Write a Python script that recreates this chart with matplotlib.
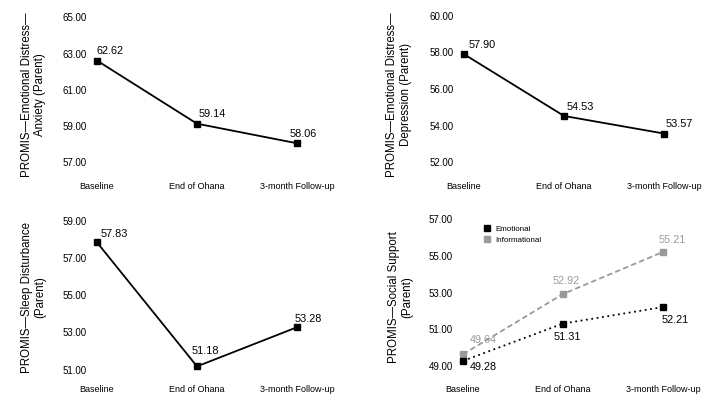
import matplotlib
matplotlib.use('Agg')
import matplotlib.pyplot as plt
from matplotlib.lines import Line2D

plt.rcParams['font.family'] = ['Liberation Sans', 'DejaVu Sans']

# Data
timepoints = ['Baseline', 'End of Ohana', '3-month Follow-up']

anxiety = [62.62, 59.14, 58.06]
depression = [57.90, 54.53, 53.57]
sleep = [57.83, 51.18, 53.28]
support_emotional = [49.28, 51.31, 52.21]
support_informational = [49.64, 52.92, 55.21]

anxiety_ticks = [57, 59, 61, 63, 65]
depression_ticks = [52, 54, 56, 58, 60]
sleep_ticks = [51, 53, 55, 57, 59]
support_ticks = [49, 51, 53, 55, 57]

labels = ['PROMIS\u2014Emotional Distress\u2014\nAnxiety (Parent)',
          'PROMIS\u2014Emotional Distress\u2014\nDepression (Parent)',
          'PROMIS\u2014Sleep Disturbance\n(Parent)',
          'PROMIS\u2014Social Support\n(Parent)']

# figure geometry in pixels
W, H = 721, 408
fig = plt.figure(figsize=(W / 100, H / 100), dpi=100)

def make_axes(left_px, top_px, bottom_px, width_px=236):
    return fig.add_axes([left_px / W, 1 - bottom_px / H,
                         width_px / W, (bottom_px - top_px) / H])

def style(ax, ticks, ylim, ylabel, label_x):
    ax.set_xlim(-0.06, 2.3)
    ax.set_ylim(*ylim)
    ax.set_xticks(range(len(timepoints)))
    ax.set_xticklabels(timepoints, fontsize=6.5)
    ax.set_yticks(ticks)
    ax.set_yticklabels(['%.2f' % t for t in ticks], fontsize=7)
    for s in ax.spines.values():
        s.set_visible(False)
    ax.tick_params(length=0, pad=3)
    ax.tick_params(axis='x', pad=3.5)
    ax.text(label_x, 0.5, ylabel, transform=ax.transAxes, rotation=90,
            ha='center', va='center', multialignment='center',
            fontsize=8.3, linespacing=1.15)

def annotate(ax, values, offsets, color='black'):
    for i, (v, off) in enumerate(zip(values, offsets)):
        ax.annotate('%.2f' % v, (i, v), xytext=off, textcoords='offset pixels',
                    ha='center', va='center', fontsize=7.8, color=color)

x = range(len(timepoints))
line_kw = dict(marker='s', markersize=4.2, linewidth=1.3)

# Anxiety
ax1 = make_axes(91, 12, 177)
ax1.plot(x, anxiety, color='black', **line_kw)
annotate(ax1, anxiety, [(13, 10), (15, 10), (6, 9)])
style(ax1, anxiety_ticks, (56.2, 65.3), labels[0], -0.245)

# Depression
ax2 = make_axes(458, 12, 177)
ax2.plot(x, depression, color='black', **line_kw)
annotate(ax2, depression, [(18, 9), (16, 9), (15, 10)])
style(ax2, depression_ticks, (51.2, 60.2), labels[1], -0.25)

# Sleep disturbance
ax3 = make_axes(91, 215, 380)
ax3.plot(x, sleep, color='black', **line_kw)
annotate(ax3, sleep, [(17, 8), (8, 15), (11, 8)])
style(ax3, sleep_ticks, (50.45, 59.3), labels[2], -0.245)

# Social support
grey = '#9a9a9a'
ax4 = make_axes(457, 215, 380)
ax4.plot(x, support_informational, color=grey, linestyle=(0, (3, 1.8)), **line_kw)
ax4.plot(x, support_emotional, color='black', linestyle=(0, (1, 2)), **line_kw)
annotate(ax4, support_informational, [(20, 14), (3, 13), (9, 12)], color=grey)
annotate(ax4, support_emotional, [(20, -6), (4, -13), (12, -13)])
style(ax4, support_ticks, (48.24, 57.22), labels[3], -0.24)

handles = [Line2D([], [], color='black', marker='s', ls='none', markersize=4),
           Line2D([], [], color=grey, marker='s', ls='none', markersize=4)]
ax4.legend(handles, ['Emotional', 'Informational'], loc='upper left',
           bbox_to_anchor=(0.10, 0.955), frameon=False, fontsize=5.8,
           handlelength=0.8, handletextpad=0.6, labelspacing=0.35,
           borderaxespad=0)

fig.savefig('out.png', dpi=100)
